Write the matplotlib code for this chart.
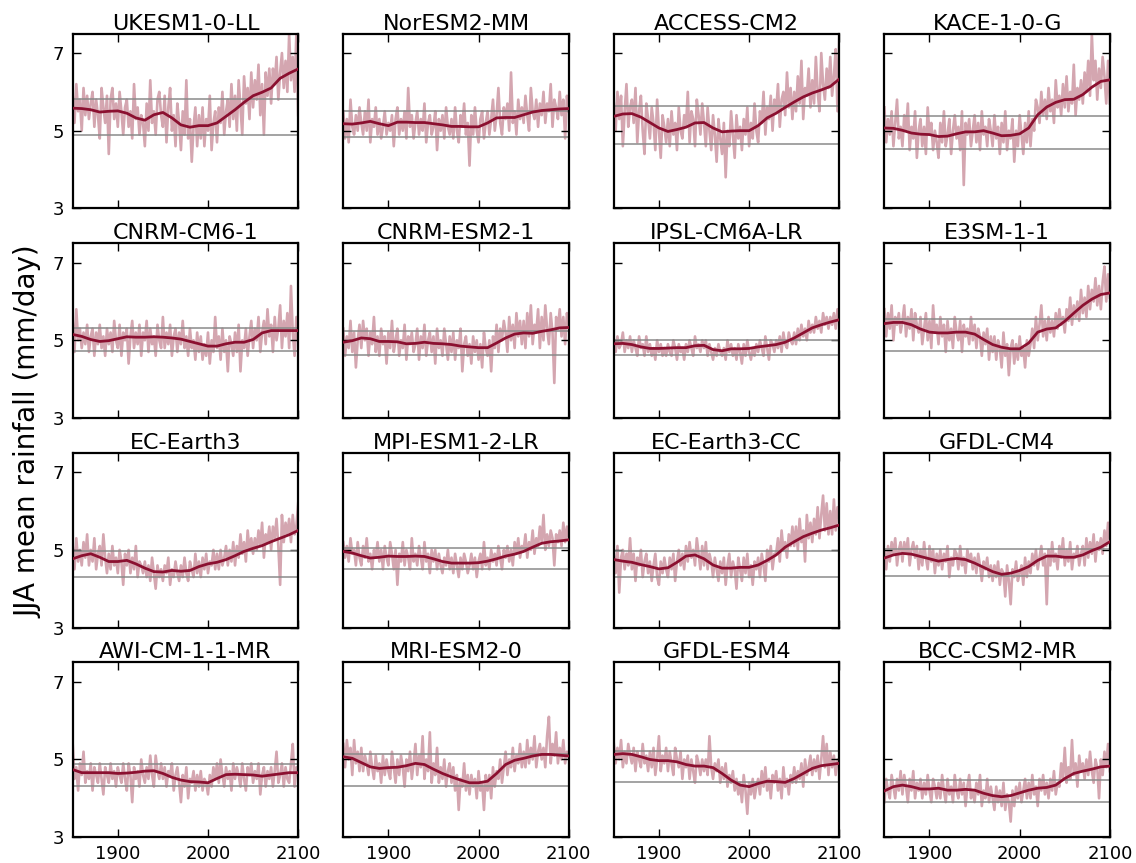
import numpy as np
import matplotlib
matplotlib.use("Agg")
import matplotlib.pyplot as plt

# JJA mean rainfall (mm/day) for 16 CMIP6 models, 1850-2100
models = ["UKESM1-0-LL", "NorESM2-MM", "ACCESS-CM2", "KACE-1-0-G",
          "CNRM-CM6-1", "CNRM-ESM2-1", "IPSL-CM6A-LR", "E3SM-1-1",
          "EC-Earth3", "MPI-ESM1-2-LR", "EC-Earth3-CC", "GFDL-CM4",
          "AWI-CM-1-1-MR", "MRI-ESM2-0", "GFDL-ESM4", "BCC-CSM2-MR"]

years = np.arange(1850, 2101, 2)         # yearly values, every 2nd year
smooth_years = np.arange(1850, 2101, 10)  # smoothed curve

annual_ukesm = [5.9, 5.2, 6.2, 5.5, 5.8, 5.0, 6.1, 5.4, 5.9, 5.3,
                5.7, 6.0, 5.1, 5.8, 5.4, 4.8, 6.1, 5.6, 5.2, 5.9,
                4.4, 5.8, 6.1, 5.3, 5.7, 5.1, 6.0, 5.5, 4.9, 5.6,
                5.8, 5.1, 5.5, 4.8, 6.2, 5.3, 5.6, 4.9, 5.4, 5.2,
                4.6, 5.7, 5.0, 6.3, 5.2, 5.5, 4.9, 5.8, 6.0, 5.4,
                5.1, 5.9, 4.7, 5.6, 6.1, 5.0, 5.4, 4.6, 5.7, 5.2,
                4.5, 5.5, 4.9, 6.3, 4.8, 5.3, 4.2, 5.1, 5.6, 4.6,
                5.4, 4.8, 5.6, 4.6, 5.3, 5.0, 5.9, 4.5, 5.2, 5.5,
                4.7, 5.6, 5.2, 6.0, 4.9, 5.5, 5.8, 5.1, 6.2, 5.3,
                5.9, 5.0, 6.3, 5.6, 4.9, 6.4, 5.7, 6.1, 5.3, 6.5,
                5.6, 6.3, 5.8, 6.7, 5.4, 6.2, 4.9, 6.5, 5.9, 6.6,
                5.7, 6.6, 6.2, 6.9, 5.8, 6.5, 7.0, 6.1, 6.8, 6.0,
                7.5, 6.3, 6.9, 6.0, 7.5, 5.4]
annual_noresm = [5.5, 4.8, 5.3, 4.7, 5.8, 5.1, 4.9, 5.4, 5.0, 5.6,
                 5.2, 4.9, 5.5, 5.0, 5.8, 4.7, 5.3, 5.1, 5.6, 4.9,
                 5.3, 4.8, 5.1, 5.5, 4.9, 5.2, 5.0, 5.4, 4.6, 5.3,
                 5.6, 4.9, 5.3, 5.0, 5.5, 4.8, 6.1, 5.1, 5.4, 4.8,
                 5.2, 5.5, 4.9, 5.3, 5.0, 5.7, 4.7, 5.2, 5.4, 4.9,
                 5.1, 5.5, 4.5, 5.3, 5.0, 5.4, 4.8, 5.6, 5.1, 4.9,
                 5.3, 4.8, 5.6, 5.0, 4.7, 5.4, 5.1, 5.7, 4.9, 5.2,
                 4.1, 5.4, 4.9, 5.6, 5.0, 4.7, 5.3, 5.5, 4.8, 5.2,
                 5.5, 4.9, 5.3, 5.8, 5.0, 5.4, 6.1, 5.2, 4.9, 5.6,
                 5.3, 5.7, 5.0, 6.5, 5.2, 5.5, 4.9, 5.8, 5.3, 5.6,
                 5.2, 5.9, 5.4, 5.0, 6.1, 5.5, 5.3, 5.8, 5.1, 5.7,
                 5.4, 6.0, 5.2, 5.7, 5.5, 6.2, 5.1, 5.8, 5.6, 5.3,
                 6.0, 5.4, 5.8, 4.8, 5.9, 5.5]
annual_access = [5.7, 5.0, 6.0, 5.3, 5.9, 4.6, 5.5, 6.2, 5.1, 5.6,
                 5.8, 5.2, 6.1, 4.7, 5.5, 5.9, 5.0, 4.4, 5.7, 5.3,
                 4.8, 5.6, 5.2, 4.5, 5.8, 5.0, 4.3, 5.4, 5.1, 4.7,
                 5.3, 4.6, 5.5, 4.9, 5.2, 4.5, 5.6, 5.0, 4.8, 5.4,
                 5.1, 6.0, 4.7, 5.5, 5.3, 4.6, 5.8, 5.4, 4.9, 5.7,
                 5.2, 4.6, 5.6, 5.0, 4.5, 5.4, 4.9, 4.2, 5.3, 4.8,
                 4.4, 5.2, 3.8, 5.0, 4.6, 5.5, 4.9, 4.3, 5.4, 4.8,
                 5.1, 4.5, 5.3, 4.9, 5.6, 4.6, 5.2, 4.8, 5.7, 5.0,
                 4.7, 5.5, 5.2, 6.0, 4.9, 5.6, 5.3, 5.9, 5.0, 5.8,
                 5.5, 6.2, 5.1, 5.8, 6.0, 5.4, 6.5, 5.6, 6.1, 5.3,
                 6.0, 5.5, 6.4, 5.7, 6.8, 5.3, 6.1, 5.9, 6.6, 5.6,
                 6.3, 5.7, 6.9, 6.0, 5.5, 7.0, 6.2, 5.8, 6.6, 6.1,
                 6.9, 5.9, 6.4, 7.1, 5.5, 7.5]
annual_kace = [5.6, 4.7, 5.3, 4.9, 5.5, 4.6, 5.2, 5.8, 4.8, 5.1,
               4.6, 5.4, 5.0, 5.7, 4.5, 5.1, 4.8, 5.5, 4.3, 5.0,
               5.3, 4.6, 5.1, 4.4, 5.6, 4.9, 5.2, 4.5, 5.0, 4.7,
               4.3, 5.2, 4.7, 5.5, 4.6, 4.9, 5.3, 4.4, 5.0, 5.4,
               4.8, 5.1, 4.5, 5.5, 3.6, 5.2, 4.9, 5.3, 4.6, 5.0,
               5.4, 4.7, 5.2, 4.5, 5.5, 4.9, 5.1, 4.6, 5.3, 5.0,
               4.6, 5.4, 4.8, 5.1, 4.4, 5.2, 4.7, 5.5, 4.5, 5.0,
               4.8, 5.3, 4.2, 5.0, 4.6, 5.4, 4.9, 4.4, 5.2, 4.7,
               5.5, 4.6, 5.3, 5.0, 5.8, 5.6, 5.2, 6.0, 5.4, 5.8,
               5.3, 6.1, 5.5, 5.8, 5.2, 6.3, 5.6, 5.9, 5.4, 6.2,
               5.6, 6.4, 5.5, 6.0, 5.7, 6.7, 5.4, 6.1, 5.8, 6.3,
               5.7, 6.5, 6.0, 6.8, 5.9, 7.5, 6.3, 6.8, 5.8, 6.6,
               6.1, 6.9, 6.4, 5.7, 6.8, 5.7]
annual_cnrm_cm = [5.5, 4.7, 5.8, 5.0, 5.3, 4.8, 5.2, 4.9, 5.4, 4.7,
                  5.1, 5.3, 4.6, 5.2, 4.9, 5.4, 4.8, 5.1, 4.6, 5.3,
                  4.9, 5.2, 4.7, 5.5, 5.0, 4.8, 5.4, 4.6, 5.2, 5.0,
                  5.3, 4.4, 5.1, 5.5, 4.8, 5.2, 4.9, 5.4, 4.6, 5.2,
                  5.0, 5.5, 4.7, 5.3, 4.9, 5.1, 4.6, 5.4, 5.0, 4.8,
                  5.6, 4.8, 5.2, 4.9, 5.4, 4.6, 5.1, 5.3, 4.7, 5.2,
                  4.9, 5.5, 4.8, 5.1, 4.6, 5.3, 4.8, 5.0, 4.5, 5.2,
                  4.7, 5.1, 4.5, 4.9, 4.6, 5.2, 4.4, 5.0, 4.7, 5.6,
                  4.8, 5.1, 4.5, 5.3, 4.7, 5.0, 4.2, 5.1, 4.9, 4.6,
                  5.2, 4.7, 5.4, 4.2, 5.0, 4.8, 5.3, 4.6, 5.1, 5.5,
                  4.8, 5.3, 5.0, 5.6, 4.7, 5.2, 5.5, 4.9, 5.8, 5.1,
                  5.4, 4.7, 5.6, 5.0, 5.3, 5.9, 4.8, 5.5, 5.1, 5.7,
                  4.8, 6.4, 5.2, 4.6, 5.6, 5.0]
annual_cnrm_esm = [5.3, 4.6, 5.1, 4.8, 5.5, 4.7, 5.2, 4.3, 5.0, 5.4,
                   4.8, 5.5, 5.0, 5.3, 4.6, 5.2, 4.9, 5.6, 4.7, 5.1,
                   4.6, 5.3, 4.9, 5.1, 4.4, 5.2, 4.8, 5.5, 4.7, 5.0,
                   5.3, 4.6, 5.0, 4.8, 5.4, 4.5, 5.1, 4.9, 5.2, 4.7,
                   4.9, 5.3, 4.5, 5.1, 4.8, 5.4, 4.6, 5.0, 5.2, 4.7,
                   5.1, 4.4, 5.3, 4.8, 5.0, 4.6, 5.3, 4.9, 4.5, 5.1,
                   4.7, 5.2, 4.5, 5.0, 4.8, 5.3, 4.2, 4.9, 5.1, 4.6,
                   4.9, 4.4, 5.1, 4.7, 5.0, 4.5, 4.9, 4.3, 5.2, 4.8,
                   4.6, 5.0, 4.2, 5.1, 4.8, 5.4, 4.7, 5.3, 5.0, 5.5,
                   5.2, 4.7, 5.6, 5.0, 5.4, 4.8, 5.7, 5.1, 5.5, 4.9,
                   5.5, 4.8, 5.7, 5.1, 5.9, 4.9, 5.4, 5.2, 5.8, 4.8,
                   5.6, 5.0, 5.9, 5.3, 4.9, 5.7, 5.2, 3.9, 5.6, 5.3,
                   5.8, 5.1, 5.6, 4.9, 5.7, 5.4]
annual_ipsl = [5.0, 4.7, 5.1, 4.8, 4.9, 5.2, 4.7, 5.0, 4.8, 5.1,
               4.7, 5.0, 4.8, 4.6, 5.1, 4.8, 4.9, 4.6, 5.1, 4.7,
               4.9, 4.6, 4.8, 4.5, 5.0, 4.7, 4.9, 4.6, 4.8, 4.6,
               4.9, 4.7, 4.6, 5.0, 4.8, 4.5, 4.9, 4.7, 4.8, 4.5,
               4.9, 4.7, 5.0, 4.8, 4.6, 5.1, 4.8, 4.9, 4.7, 5.0,
               4.8, 5.0, 4.6, 4.9, 4.7, 4.5, 4.8, 4.6, 4.9, 4.7,
               4.6, 4.8, 4.5, 5.0, 4.7, 4.9, 4.6, 4.8, 4.5, 4.9,
               4.7, 4.4, 4.9, 4.6, 5.0, 4.7, 4.5, 4.8, 4.6, 4.9,
               4.7, 5.0, 4.8, 4.6, 5.1, 4.8, 4.5, 5.0, 4.9, 4.7,
               5.0, 4.8, 5.1, 4.7, 5.2, 4.9, 4.8, 5.2, 5.0, 4.9,
               5.2, 4.9, 5.3, 5.0, 5.4, 5.1, 5.3, 5.0, 5.5, 5.2,
               5.4, 5.2, 5.6, 5.3, 5.5, 5.2, 5.7, 5.4, 5.6, 5.3,
               5.6, 5.4, 5.7, 5.3, 5.8, 5.5]
annual_e3sm = [5.8, 5.1, 5.7, 5.3, 5.9, 5.0, 5.6, 5.4, 5.7, 5.2,
               5.5, 5.9, 5.1, 5.6, 5.3, 5.8, 5.0, 5.7, 5.4, 5.2,
               5.6, 4.9, 5.3, 5.7, 5.0, 5.5, 4.8, 5.9, 5.2, 5.4,
               4.9, 5.6, 5.1, 5.4, 4.7, 5.5, 5.0, 5.3, 4.8, 5.6,
               5.2, 5.0, 5.5, 4.7, 5.4, 5.1, 5.3, 4.9, 5.6, 5.0,
               5.4, 4.8, 5.3, 5.1, 4.6, 5.2, 4.9, 5.3, 4.5, 5.1,
               4.7, 5.1, 4.5, 5.0, 4.8, 4.3, 5.2, 4.6, 4.9, 4.1,
               4.8, 5.0, 4.4, 4.9, 4.5, 5.1, 4.6, 4.8, 4.3, 5.0,
               4.6, 4.9, 5.3, 4.8, 5.6, 5.0, 5.4, 5.9, 5.1, 5.5,
               5.0, 5.6, 5.2, 5.5, 5.1, 5.7, 5.3, 5.8, 5.4, 5.6,
               5.2, 5.8, 5.5, 6.1, 5.4, 5.9, 5.6, 6.0, 5.5, 6.3,
               5.7, 6.1, 5.6, 6.4, 5.8, 6.3, 6.0, 6.6, 5.9, 6.4,
               5.8, 6.5, 6.9, 6.0, 6.7, 6.1]
annual_ecearth = [5.1, 4.5, 5.3, 4.7, 5.0, 4.6, 5.2, 4.8, 5.4, 4.6,
                  5.0, 4.7, 5.3, 4.5, 4.9, 5.1, 4.6, 5.4, 4.8, 4.4,
                  4.9, 4.5, 5.1, 4.6, 4.8, 4.4, 5.0, 4.7, 4.1, 4.9,
                  4.6, 5.0, 4.4, 4.8, 4.5, 5.1, 4.3, 4.7, 4.6, 4.4,
                  4.7, 4.3, 4.6, 4.2, 4.8, 4.4, 4.0, 4.6, 4.3, 4.5,
                  4.2, 4.6, 4.4, 4.8, 4.1, 4.5, 4.3, 4.7, 4.4, 4.2,
                  4.6, 4.3, 4.8, 4.4, 4.2, 4.7, 4.5, 4.3, 4.9, 4.4,
                  4.7, 4.3, 4.8, 4.5, 4.9, 4.4, 4.7, 4.6, 5.0, 4.5,
                  4.9, 4.5, 5.0, 4.6, 4.8, 5.1, 4.6, 5.0, 4.7, 5.2,
                  4.6, 5.1, 4.8, 5.4, 4.9, 5.2, 4.7, 5.5, 5.0, 5.3,
                  4.9, 5.3, 5.0, 5.5, 5.1, 5.7, 4.8, 5.4, 5.2, 5.6,
                  5.0, 5.6, 5.3, 5.8, 5.1, 4.1, 5.9, 5.2, 5.7, 5.4,
                  5.8, 5.2, 5.9, 5.4, 5.6, 6.2]
annual_mpi = [5.2, 4.8, 5.1, 4.7, 5.3, 4.9, 5.0, 4.6, 5.2, 4.8,
              4.6, 5.1, 4.8, 5.3, 4.7, 4.9, 4.5, 5.0, 4.8, 5.2,
              4.7, 5.0, 4.5, 5.1, 4.8, 4.6, 5.2, 4.9, 4.5, 5.0,
              4.1, 4.9, 4.7, 5.2, 4.6, 5.0, 4.8, 4.5, 5.3, 4.7,
              4.9, 4.6, 5.1, 4.8, 4.5, 5.2, 4.7, 4.9, 4.4, 5.0,
              4.7, 5.0, 4.5, 4.9, 4.6, 4.4, 4.8, 4.6, 5.0, 4.5,
              4.8, 4.4, 4.9, 4.6, 4.3, 4.8, 4.5, 4.9, 4.7, 4.4,
              4.6, 4.9, 4.5, 4.8, 4.3, 4.7, 4.9, 4.5, 5.2, 4.6,
              4.8, 4.5, 5.0, 4.7, 4.9, 4.6, 5.1, 4.8, 4.5, 5.0,
              4.8, 5.1, 4.7, 5.0, 4.6, 5.2, 4.9, 5.3, 4.8, 5.1,
              5.0, 5.4, 4.8, 5.2, 5.0, 5.5, 4.9, 5.3, 5.1, 5.6,
              5.2, 5.9, 5.0, 5.4, 5.1, 5.5, 5.3, 4.6, 5.4, 5.2,
              5.5, 5.1, 5.7, 5.2, 5.6, 5.3]
annual_ecearth_cc = [4.9, 4.4, 5.1, 3.9, 4.8, 5.0, 4.5, 4.9, 4.6, 5.3,
                     4.5, 4.9, 4.2, 4.8, 4.6, 5.0, 4.3, 4.7, 4.9, 4.4,
                     4.7, 4.2, 4.6, 4.9, 4.3, 4.1, 4.7, 4.4, 4.8, 4.5,
                     4.3, 4.8, 4.5, 4.9, 4.2, 4.7, 5.0, 4.6, 4.9, 4.5,
                     5.1, 4.7, 5.2, 4.8, 5.0, 4.6, 5.3, 4.9, 4.5, 5.1,
                     4.6, 5.2, 4.5, 4.9, 4.7, 4.3, 4.8, 4.5, 4.2, 4.7,
                     4.4, 4.8, 4.1, 4.6, 4.9, 4.3, 4.7, 4.5, 4.0, 4.8,
                     4.5, 4.2, 4.8, 4.4, 4.9, 4.3, 4.6, 4.1, 4.7, 4.5,
                     4.8, 4.3, 4.9, 4.6, 4.2, 5.0, 4.7, 5.1, 4.5, 4.9,
                     4.9, 5.3, 4.7, 5.5, 5.0, 5.2, 4.8, 5.4, 5.1, 5.6,
                     5.1, 5.6, 5.0, 5.8, 5.2, 5.5, 4.7, 5.9, 5.3, 5.7,
                     5.2, 5.8, 5.4, 6.1, 5.3, 5.9, 6.4, 5.5, 6.2, 5.4,
                     6.0, 5.4, 6.3, 5.5, 6.1, 5.8]
annual_gfdl_cm4 = [5.0, 4.5, 5.1, 4.7, 5.2, 4.9, 5.3, 4.6, 5.0, 5.2,
                   4.7, 5.2, 4.9, 5.3, 4.6, 5.0, 5.2, 4.8, 5.1, 4.5,
                   5.0, 4.6, 5.2, 4.8, 4.5, 5.1, 4.7, 5.0, 4.4, 4.9,
                   4.6, 5.0, 4.5, 4.9, 4.7, 5.1, 4.3, 4.8, 4.6, 5.0,
                   4.9, 4.5, 5.1, 4.6, 4.8, 4.4, 5.0, 4.7, 4.9, 4.5,
                   4.8, 4.4, 4.9, 4.6, 4.2, 4.7, 4.5, 4.8, 4.3, 4.6,
                   4.2, 4.6, 4.3, 4.7, 4.1, 4.5, 4.4, 3.8, 4.6, 4.2,
                   3.6, 4.5, 4.3, 4.7, 4.2, 4.4, 4.6, 4.1, 4.8, 4.3,
                   4.7, 4.4, 4.9, 4.6, 5.0, 4.5, 4.8, 5.1, 4.6, 4.9,
                   3.6, 5.0, 4.6, 5.2, 4.7, 4.9, 4.5, 5.1, 4.8, 5.3,
                   4.6, 5.0, 4.7, 5.2, 4.5, 4.9, 4.8, 5.1, 4.6, 4.9,
                   5.1, 4.6, 5.3, 4.8, 5.2, 4.9, 5.4, 4.7, 5.2, 5.0,
                   5.3, 4.9, 5.5, 5.1, 5.7, 5.2]
annual_awi = [5.4, 4.5, 4.8, 4.2, 4.9, 4.6, 5.2, 4.4, 4.7, 4.5,
              4.9, 4.2, 4.8, 4.6, 4.4, 4.9, 4.5, 4.1, 4.8, 4.6,
              4.4, 4.9, 4.5, 4.7, 4.3, 4.8, 4.6, 4.4, 4.9, 4.5,
              4.2, 4.9, 4.6, 3.9, 4.8, 4.5, 4.7, 4.3, 5.0, 4.6,
              4.4, 4.8, 4.5, 5.1, 4.6, 4.3, 5.1, 4.7, 4.5, 4.9,
              4.5, 4.8, 4.3, 4.7, 4.6, 4.9, 4.2, 4.6, 4.8, 4.4,
              3.9, 4.6, 4.3, 4.8, 4.0, 4.5, 4.4, 4.7, 4.2, 4.6,
              4.3, 4.7, 4.2, 4.5, 4.4, 4.1, 4.6, 4.3, 4.8, 4.5,
              4.9, 4.4, 5.0, 4.6, 4.3, 4.8, 4.5, 4.7, 4.2, 4.9,
              4.5, 4.8, 4.6, 4.3, 4.9, 4.5, 4.2, 4.8, 4.6, 4.9,
              4.4, 4.7, 4.5, 4.9, 4.1, 4.6, 4.8, 4.3, 4.7, 4.5,
              4.8, 4.3, 4.7, 5.2, 4.4, 4.6, 4.9, 4.3, 4.8, 4.5,
              4.4, 4.9, 5.4, 4.3, 4.8, 4.6]
annual_mri = [5.4, 4.8, 5.5, 5.0, 5.3, 4.6, 5.5, 4.9, 5.2, 4.7,
              5.3, 4.7, 5.1, 4.9, 4.6, 5.2, 4.8, 4.5, 5.1, 4.7,
              4.9, 4.4, 5.1, 4.6, 5.0, 4.7, 4.5, 5.2, 4.8, 4.4,
              5.0, 4.6, 5.1, 4.8, 4.3, 5.0, 4.7, 5.2, 4.5, 4.9,
              5.4, 4.6, 5.1, 4.8, 5.6, 4.5, 5.0, 4.7, 5.7, 4.4,
              4.9, 4.6, 5.3, 4.4, 4.8, 4.5, 5.0, 4.3, 4.7, 4.9,
              4.4, 4.8, 4.2, 4.6, 3.7, 4.5, 4.3, 4.9, 4.2, 4.6,
              4.1, 4.6, 4.3, 4.5, 4.0, 4.7, 4.2, 4.4, 3.7, 4.6,
              4.2, 4.6, 4.0, 4.8, 4.3, 4.7, 4.5, 5.0, 4.4, 4.8,
              5.2, 4.6, 5.0, 4.8, 5.3, 4.7, 5.1, 4.9, 5.4, 4.8,
              5.2, 4.8, 5.5, 4.9, 5.3, 5.0, 5.6, 4.8, 5.2, 5.4,
              5.0, 5.3, 4.8, 5.6, 6.1, 4.9, 5.4, 5.1, 5.7, 4.9,
              5.3, 5.0, 5.5, 4.9, 5.2, 5.1]
annual_gfdl_esm = [5.4, 4.9, 5.3, 5.0, 5.5, 4.8, 5.2, 4.9, 5.4, 5.1,
                   4.9, 5.3, 4.7, 5.2, 5.0, 4.8, 5.4, 4.9, 5.1, 4.7,
                   5.2, 4.8, 5.3, 4.6, 5.0, 5.6, 4.7, 5.1, 4.9, 5.3,
                   4.7, 5.2, 4.9, 4.6, 5.3, 5.0, 4.8, 5.2, 4.5, 5.0,
                   4.8, 5.1, 4.5, 5.0, 4.7, 4.4, 5.1, 4.9, 4.6, 5.0,
                   4.7, 5.0, 4.6, 5.6, 4.8, 4.5, 4.9, 4.7, 5.0, 4.4,
                   4.8, 4.5, 4.9, 4.3, 4.6, 4.4, 4.7, 4.2, 4.5, 4.1,
                   4.4, 3.9, 4.6, 4.2, 3.6, 4.4, 4.1, 4.5, 4.0, 4.3,
                   4.5, 4.1, 4.7, 4.3, 4.8, 4.2, 4.5, 4.0, 4.6, 4.4,
                   4.7, 4.2, 4.5, 4.0, 4.8, 4.3, 4.5, 4.1, 4.6, 4.4,
                   4.8, 4.4, 4.7, 4.5, 4.9, 4.3, 5.0, 4.6, 4.8, 5.1,
                   4.6, 5.0, 4.7, 5.1, 4.5, 5.0, 5.6, 4.8, 5.4, 4.6,
                   5.2, 4.8, 5.1, 4.6, 5.0, 4.8]
annual_bcc = [3.9, 4.5, 4.2, 4.0, 4.6, 4.3, 4.0, 4.5, 4.2, 4.7,
              4.1, 4.6, 4.3, 3.9, 4.5, 4.2, 4.7, 4.0, 4.4, 4.2,
              4.5, 4.0, 4.4, 4.1, 4.6, 4.2, 3.9, 4.5, 4.3, 4.0,
              4.4, 4.0, 4.6, 4.2, 3.9, 4.5, 4.1, 4.3, 3.9, 4.6,
              4.2, 4.0, 4.5, 4.1, 4.4, 3.8, 4.3, 4.6, 4.0, 4.2,
              3.9, 4.4, 4.1, 4.6, 3.8, 4.2, 4.0, 4.5, 3.9, 4.3,
              4.0, 3.7, 4.3, 3.9, 4.2, 3.8, 4.4, 3.7, 4.1, 3.9,
              3.4, 4.2, 3.8, 4.3, 4.0, 4.4, 3.9, 4.2, 4.5, 4.0,
              4.4, 4.0, 4.6, 4.1, 4.3, 3.8, 4.5, 4.2, 4.6, 4.1,
              4.4, 4.0, 4.5, 4.2, 4.7, 4.1, 4.4, 4.3, 4.9, 4.5,
              5.3, 4.4, 4.8, 4.5, 5.5, 4.6, 4.9, 4.3, 5.1, 4.7,
              4.9, 4.5, 5.0, 4.6, 5.2, 4.7, 4.4, 5.0, 4.8, 4.0,
              5.0, 4.6, 5.2, 4.8, 5.4, 4.7]

smooth_ukesm = [5.58, 5.57, 5.54, 5.48, 5.50, 5.51, 5.45, 5.33, 5.27, 5.41, 5.47, 5.33, 5.15,
                5.09, 5.13, 5.13, 5.20, 5.37, 5.54, 5.73, 5.90, 5.99, 6.10, 6.35, 6.48, 6.59]
smooth_noresm = [5.18, 5.17, 5.20, 5.24, 5.18, 5.13, 5.22, 5.22, 5.21, 5.21, 5.18, 5.15, 5.11,
                 5.11, 5.10, 5.10, 5.20, 5.33, 5.34, 5.34, 5.41, 5.48, 5.52, 5.54, 5.56, 5.57]
smooth_access = [5.37, 5.43, 5.44, 5.35, 5.21, 5.07, 4.98, 5.03, 5.09, 5.20, 5.21, 5.07, 4.97,
                 4.99, 5.00, 5.00, 5.13, 5.33, 5.45, 5.60, 5.74, 5.87, 5.97, 6.05, 6.14, 6.33]
smooth_kace = [5.07, 5.06, 5.01, 4.94, 4.91, 4.90, 4.85, 4.86, 4.92, 4.97, 4.97, 5.00, 4.94,
               4.87, 4.88, 4.92, 5.07, 5.41, 5.61, 5.73, 5.80, 5.81, 5.93, 6.12, 6.27, 6.31]
smooth_cnrm_cm = [5.15, 5.10, 5.02, 4.97, 4.99, 5.04, 5.09, 5.08, 5.08, 5.09, 5.08, 5.06, 5.03,
                  4.97, 4.91, 4.85, 4.85, 4.91, 4.95, 4.95, 5.02, 5.19, 5.25, 5.25, 5.25, 5.25]
smooth_cnrm_esm = [4.95, 4.99, 5.06, 5.04, 4.97, 4.97, 4.96, 4.91, 4.92, 4.95, 4.92, 4.91, 4.89,
                   4.85, 4.83, 4.81, 4.81, 4.93, 5.06, 5.16, 5.19, 5.18, 5.23, 5.27, 5.32, 5.33]
smooth_ipsl = [4.91, 4.92, 4.89, 4.83, 4.79, 4.79, 4.80, 4.81, 4.81, 4.86, 4.87, 4.76, 4.73,
               4.78, 4.78, 4.79, 4.83, 4.86, 4.89, 4.95, 5.06, 5.19, 5.32, 5.40, 5.47, 5.53]
smooth_e3sm = [5.43, 5.46, 5.46, 5.40, 5.29, 5.21, 5.19, 5.19, 5.21, 5.21, 5.16, 5.02, 4.89,
               4.82, 4.78, 4.78, 4.93, 5.21, 5.29, 5.32, 5.49, 5.70, 5.90, 6.06, 6.18, 6.22]
smooth_ecearth = [4.77, 4.85, 4.90, 4.81, 4.70, 4.70, 4.73, 4.64, 4.53, 4.44, 4.43, 4.47, 4.45,
                  4.47, 4.57, 4.64, 4.68, 4.75, 4.85, 4.96, 5.04, 5.11, 5.21, 5.30, 5.39, 5.50]
smooth_mpi = [4.96, 4.92, 4.85, 4.79, 4.81, 4.84, 4.83, 4.83, 4.84, 4.83, 4.77, 4.70, 4.66,
              4.66, 4.66, 4.67, 4.71, 4.77, 4.84, 4.89, 4.96, 5.07, 5.17, 5.21, 5.23, 5.26]
smooth_ecearth_cc = [4.75, 4.71, 4.68, 4.62, 4.57, 4.51, 4.54, 4.68, 4.84, 4.87, 4.77, 4.61, 4.53,
                     4.53, 4.55, 4.55, 4.61, 4.73, 4.87, 5.07, 5.21, 5.34, 5.43, 5.51, 5.57, 5.64]
smooth_gfdl_cm4 = [4.79, 4.87, 4.91, 4.89, 4.83, 4.77, 4.71, 4.75, 4.78, 4.75, 4.66, 4.55, 4.44,
                   4.37, 4.40, 4.47, 4.57, 4.73, 4.84, 4.84, 4.81, 4.81, 4.87, 4.98, 5.07, 5.21]
smooth_awi = [4.74, 4.66, 4.66, 4.66, 4.66, 4.64, 4.65, 4.67, 4.70, 4.71, 4.64, 4.54, 4.47,
              4.43, 4.42, 4.40, 4.51, 4.61, 4.62, 4.61, 4.60, 4.57, 4.60, 4.63, 4.66, 4.66]
smooth_mri = [5.07, 5.03, 4.92, 4.81, 4.77, 4.79, 4.80, 4.84, 4.90, 4.87, 4.75, 4.64, 4.55,
              4.47, 4.40, 4.40, 4.44, 4.64, 4.87, 4.98, 5.03, 5.09, 5.13, 5.13, 5.11, 5.09]
smooth_gfdl_esm = [5.13, 5.15, 5.13, 5.07, 5.00, 4.97, 4.97, 4.94, 4.87, 4.83, 4.83, 4.79, 4.64,
                   4.47, 4.34, 4.30, 4.38, 4.44, 4.43, 4.41, 4.51, 4.64, 4.77, 4.84, 4.87, 4.90]
smooth_bcc = [4.19, 4.30, 4.34, 4.30, 4.24, 4.24, 4.26, 4.21, 4.21, 4.23, 4.21, 4.13, 4.07,
              4.04, 4.07, 4.14, 4.21, 4.26, 4.28, 4.34, 4.51, 4.64, 4.70, 4.75, 4.81, 4.83]

# grey reference lines (upper, lower) per model
ref_upper = [5.81, 5.50, 5.64, 5.37, 5.32, 5.25, 5.00, 5.56,
             4.96, 5.04, 4.97, 5.01, 4.88, 5.15, 5.22, 4.47]
ref_lower = [4.90, 4.85, 4.67, 4.52, 4.73, 4.63, 4.63, 4.72,
             4.31, 4.51, 4.31, 4.32, 4.31, 4.31, 4.42, 3.90]

annual = [annual_ukesm, annual_noresm, annual_access, annual_kace,
          annual_cnrm_cm, annual_cnrm_esm, annual_ipsl, annual_e3sm,
          annual_ecearth, annual_mpi, annual_ecearth_cc, annual_gfdl_cm4,
          annual_awi, annual_mri, annual_gfdl_esm, annual_bcc]
smooth = [smooth_ukesm, smooth_noresm, smooth_access, smooth_kace,
          smooth_cnrm_cm, smooth_cnrm_esm, smooth_ipsl, smooth_e3sm,
          smooth_ecearth, smooth_mpi, smooth_ecearth_cc, smooth_gfdl_cm4,
          smooth_awi, smooth_mri, smooth_gfdl_esm, smooth_bcc]

plt.rcParams["font.family"] = "DejaVu Sans"
plt.rcParams["xtick.direction"] = "in"
plt.rcParams["ytick.direction"] = "in"
plt.rcParams["xtick.top"] = True
plt.rcParams["ytick.right"] = True

fig, axes = plt.subplots(4, 4, figsize=(11.36, 8.63), dpi=100, sharex=True, sharey=True)
fig.subplots_adjust(left=0.064, right=0.977, bottom=0.030, top=0.961, wspace=0.2, hspace=0.2)

for i, ax in enumerate(axes.flat):
    ax.plot(years, annual[i], color="#d4a6b0", lw=1.9, zorder=1)
    ax.axhline(ref_upper[i], color="#8a8a8a", lw=1.1, zorder=2)
    ax.axhline(ref_lower[i], color="#8a8a8a", lw=1.1, zorder=2)
    ax.plot(smooth_years, smooth[i], color="#8b1030", lw=2.0, zorder=3)
    ax.set_title(models[i], fontsize=16, pad=2)
    for s in ax.spines.values():
        s.set_linewidth(1.6)
    ax.tick_params(labelsize=13, length=6, width=1.0, pad=6)

axes[0, 0].set_xlim(1850, 2100)
axes[0, 0].set_ylim(3, 7.5)
axes[0, 0].set_xticks([1900, 2000, 2100])
axes[0, 0].set_yticks([3, 5, 7])

fig.text(0.025, 0.5, "JJA mean rainfall (mm/day)", rotation=90,
         ha="center", va="center", fontsize=20)

fig.savefig("out.png", dpi=100, facecolor="white")
